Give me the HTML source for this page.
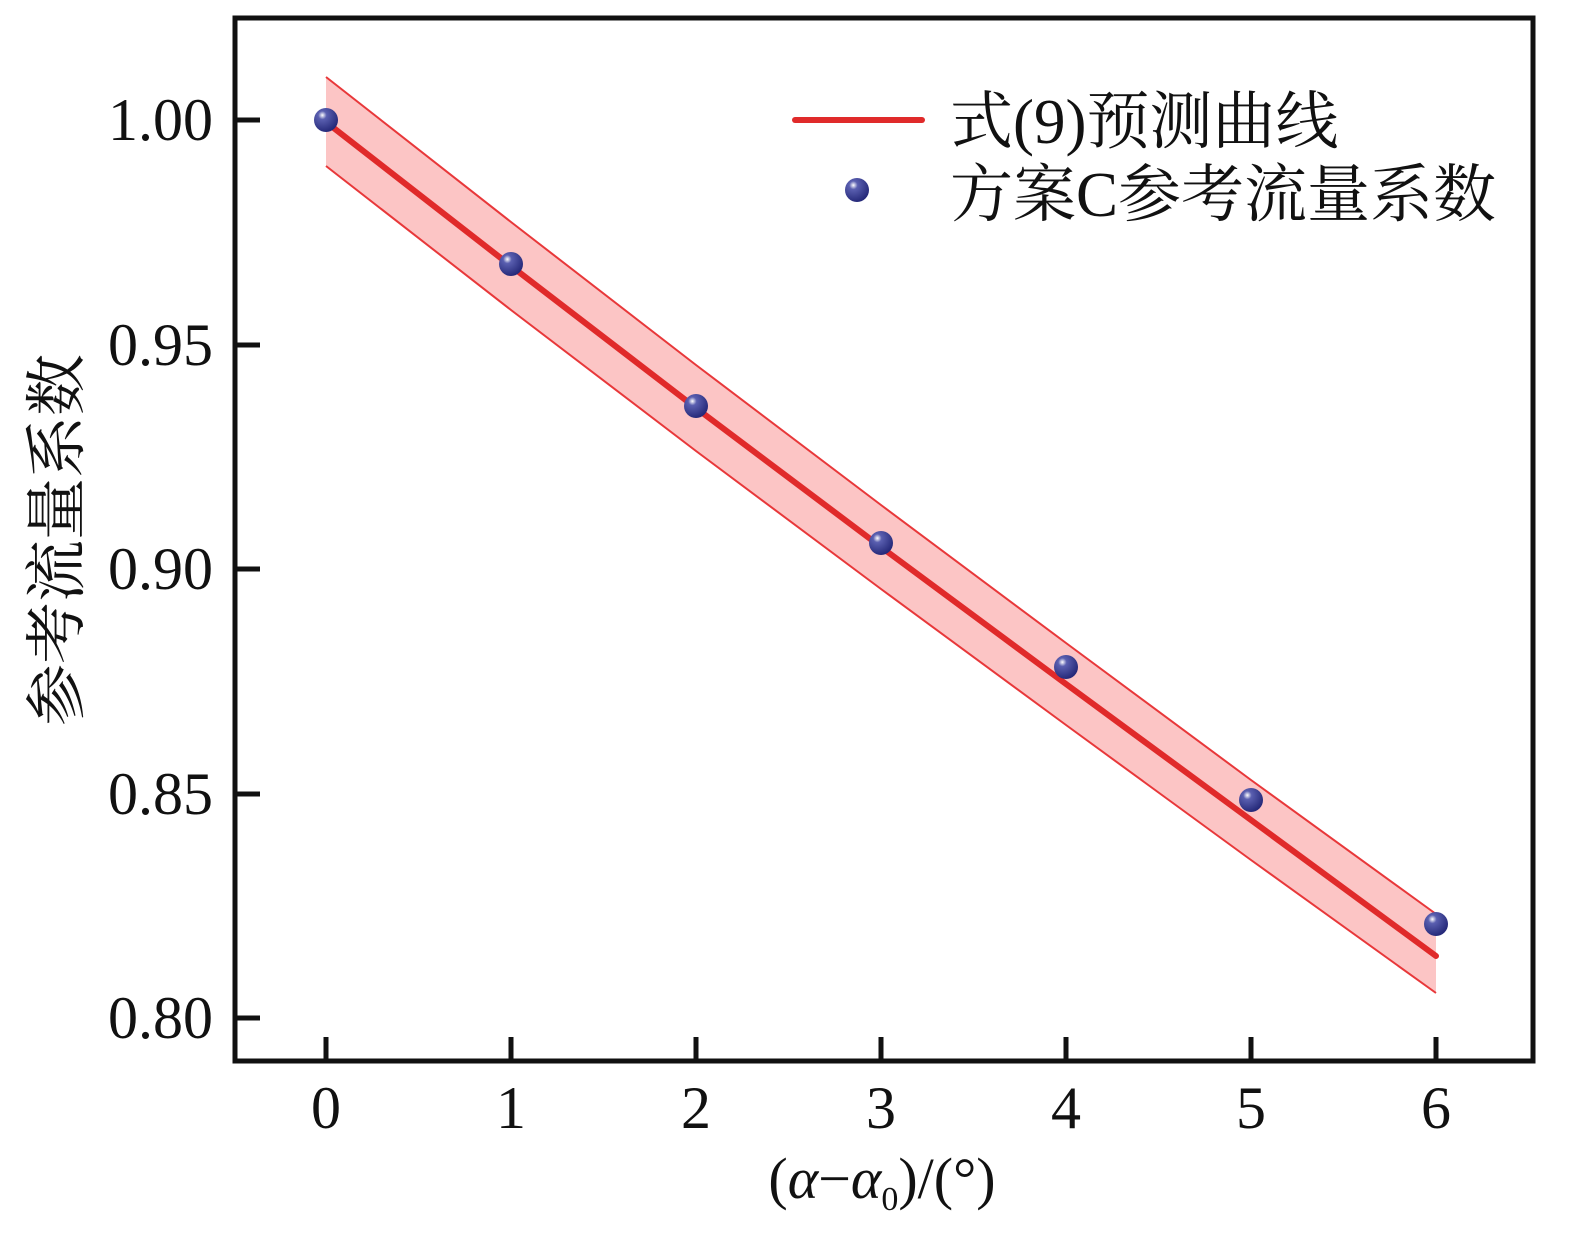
<!DOCTYPE html>
<html><head><meta charset="utf-8"><style>body{margin:0;background:#fff}</style></head><body>
<svg width="1572" height="1234" viewBox="0 0 1572 1234" xmlns="http://www.w3.org/2000/svg" font-family="'Liberation Serif','Noto Serif CJK SC',serif">
<rect width="1572" height="1234" fill="#fff"/>
<polygon points="326,77 511,222 696,365 881,505 1066,643 1251,780 1436,914 1436,993 1251,860 1066,725 881,589 696,451 511,310 326,166" fill="#fcc5c5"/>
<polyline points="326,77 511,222 696,365 881,505 1066,643 1251,780 1436,914" fill="none" stroke="#e8383a" stroke-width="2"/>
<polyline points="326,166 511,310 696,451 881,589 1066,725 1251,860 1436,993" fill="none" stroke="#e8383a" stroke-width="2"/>
<polyline points="326,122 511,266 696,408 881,547 1066,684 1251,820 1436,956" fill="none" stroke="#e02a2a" stroke-width="6" stroke-linecap="round"/>
<defs><radialGradient id="g" cx="0.35" cy="0.3" r="0.7"><stop offset="0" stop-color="#fff"/><stop offset="0.25" stop-color="#5a5fb0"/><stop offset="1" stop-color="#262a7a"/></radialGradient></defs>
<g fill="url(#g)">
<circle cx="326" cy="120" r="12"/><circle cx="511" cy="264" r="12"/><circle cx="696" cy="406" r="12"/><circle cx="881" cy="543" r="12"/><circle cx="1066" cy="667" r="12"/><circle cx="1251" cy="800" r="12"/><circle cx="1436" cy="924" r="12"/>
<circle cx="857" cy="190" r="12"/>
</g>
<rect x="235" y="18" width="1298" height="1043" fill="none" stroke="#111" stroke-width="5"/>
<g stroke="#111" stroke-width="5">
<line x1="235" y1="120" x2="260" y2="120"/><line x1="235" y1="345" x2="260" y2="345"/><line x1="235" y1="569" x2="260" y2="569"/><line x1="235" y1="794" x2="260" y2="794"/><line x1="235" y1="1018" x2="260" y2="1018"/>
<line x1="326" y1="1061" x2="326" y2="1037"/><line x1="511" y1="1061" x2="511" y2="1037"/><line x1="696" y1="1061" x2="696" y2="1037"/><line x1="881" y1="1061" x2="881" y2="1037"/><line x1="1066" y1="1061" x2="1066" y2="1037"/><line x1="1251" y1="1061" x2="1251" y2="1037"/><line x1="1436" y1="1061" x2="1436" y2="1037"/>
</g>
<g font-size="60" fill="#111" text-anchor="end">
<text x="213" y="140">1.00</text><text x="213" y="365">0.95</text><text x="213" y="589">0.90</text><text x="213" y="814">0.85</text><text x="213" y="1038">0.80</text>
</g>
<g font-size="60" fill="#111" text-anchor="middle">
<text x="326" y="1128">0</text><text x="511" y="1128">1</text><text x="696" y="1128">2</text><text x="881" y="1128">3</text><text x="1066" y="1128">4</text><text x="1251" y="1128">5</text><text x="1436" y="1128">6</text>
</g>
<text x="882" y="1198" font-size="58" fill="#111" text-anchor="middle">(<tspan font-style="italic">α</tspan>−<tspan font-style="italic">α</tspan><tspan font-size="34" dy="12">0</tspan><tspan dy="-12">)/(°)</tspan></text>
<text transform="translate(78,540) rotate(-90)" font-size="62" fill="#111" text-anchor="middle">参考流量系数</text>
<line x1="795" y1="120" x2="922" y2="120" stroke="#e02a2a" stroke-width="6" stroke-linecap="round"/>
<text x="950" y="143" font-size="63" fill="#111">式(9)预测曲线</text>
<text x="950" y="216" font-size="63" fill="#111">方案C参考流量系数</text>
</svg>
</body></html>
